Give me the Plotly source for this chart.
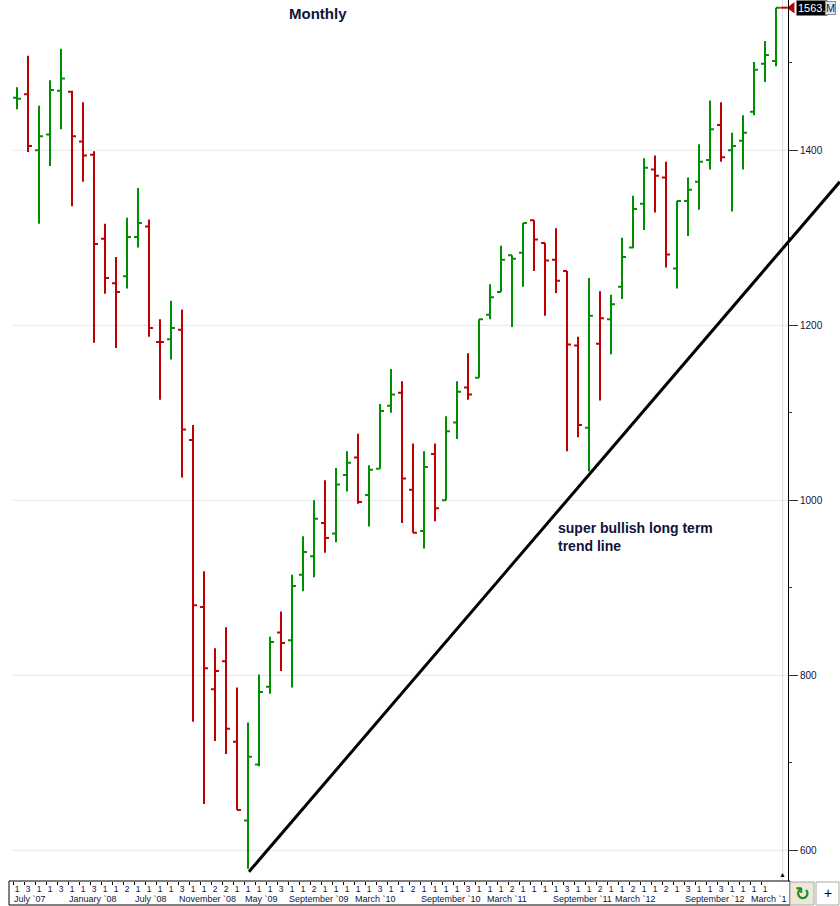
import plotly.graph_objects as go

# monthly bars, July 2007 .. April 2013
opens = [1460, 1464, 1400, 1418, 1468, 1467, 1410, 1395, 1299, 1248,
         1256, 1301, 1313, 1181, 1184, 1195, 1069, 878, 784, 816,
         724, 634, 698, 787, 849, 840, 915, 936, 974, 962,
         1029, 1049, 1006, 1036, 1108, 1123, 1012, 965, 1053, 1000,
         1089, 1129, 1140, 1212, 1238, 1280, 1283, 1320, 1294, 1275,
         1262, 1177, 1083, 1179, 1207, 1244, 1289, 1339, 1378, 1369,
         1265, 1342, 1364, 1389, 1429, 1400, 1411, 1444, 1499, 1502]
highs = [1472, 1508, 1451, 1480, 1516, 1468, 1455, 1399, 1316, 1278,
         1323, 1357, 1321, 1207, 1228, 1218, 1086, 919, 831, 855,
         786, 746, 801, 844, 873, 915, 959, 1000, 1023, 1037,
         1056, 1076, 1040, 1110, 1150, 1136, 1065, 1056, 1065, 1096,
         1136, 1168, 1207, 1247, 1291, 1280, 1317, 1320, 1294, 1311,
         1262, 1187, 1254, 1239, 1235, 1300, 1348, 1391, 1394, 1387,
         1342, 1369, 1407, 1457, 1455, 1420, 1440, 1501, 1525, 1563]
lows = [1447, 1398, 1316, 1382, 1424, 1336, 1364, 1180, 1236, 1174,
        1242, 1289, 1187, 1115, 1161, 1026, 747, 653, 725, 710,
        646, 579, 696, 779, 805, 786, 896, 912, 940, 952,
        1010, 996, 970, 1036, 1100, 974, 963, 945, 976, 1000,
        1070, 1115, 1140, 1207, 1238, 1198, 1244, 1262, 1211, 1237,
        1056, 1072, 1033, 1114, 1167, 1230, 1288, 1309, 1329, 1266,
        1242, 1302, 1332, 1378, 1387, 1330, 1378, 1440, 1478, 1496]
closes = [1459, 1405, 1416, 1469, 1482, 1416, 1394, 1293, 1254, 1238,
          1301, 1317, 1197, 1181, 1197, 1081, 880, 808, 805, 739,
          646, 707, 781, 838, 837, 902, 941, 979, 957, 1018,
          1043, 998, 1035, 1102, 1121, 1025, 963, 1038, 991, 1079,
          1124, 1121, 1207, 1232, 1275, 1276, 1317, 1298, 1274, 1251,
          1178, 1086, 1211, 1208, 1224, 1278, 1333, 1380, 1371, 1281,
          1342, 1355, 1387, 1424, 1392, 1405, 1420, 1492, 1509, 1563]

# day numbers printed under each bar (last bar has none)
day_labels = ["1", "3", "1", "1", "3", "1", "1", "3", "1", "1", "2", "1",
              "1", "1", "1", "3", "1", "1", "2", "2", "1", "1", "1", "1",
              "3", "1", "1", "2", "1", "1", "1", "1", "1", "3", "1", "1",
              "2", "1", "1", "1", "1", "3", "1", "1", "1", "2", "1", "1",
              "1", "1",
              "3", "1", "1", "2", "1", "1", "2", "1", "1", "2", "1", "3",
              "1", "1", "3", "1", "1", "1", "1"]

month_labels = ["July `07", "January `08", "July `08", "November `08", "May `09",
                "September `09", "March `10", "September `10", "March `11",
                "September `11", "March `12", "September `12", "March `1"]
month_bar = [0, 5, 11, 15, 21, 25, 31, 37, 43, 49, 54.6, 61, 67]

grid_levels = [600, 800, 1000, 1200, 1400]

# hand-drawn trend line (bar index, price)
trend_x = [21.09, 74.8]
trend_y = [575.5, 1364]

GREEN = "#008f00"
RED = "#c00000"
TXT = "#12123a"
FONT = "Liberation Sans, Arial, sans-serif"

W, H = 840, 906
ML, MR, MT, MB = 9, 0, 0, 25
PW, PH = W - ML - MR, H - MT - MB


def px_x(p):
    return (p - ML) / PW


def px_y(p):
    return 1 - (p - MT) / PH


n = len(closes)
bars = list(range(n))
up = [i for i in bars if i == 0 or closes[i] >= closes[i - 1]]
down = [i for i in bars if i not in up]

fig = go.Figure()
for idx, col in ((up, GREEN), (down, RED)):
    fig.add_trace(go.Ohlc(
        x=idx,
        open=[opens[i] for i in idx],
        high=[highs[i] for i in idx],
        low=[lows[i] for i in idx],
        close=[closes[i] for i in idx],
        increasing=dict(line=dict(color=col, width=2)),
        decreasing=dict(line=dict(color=col, width=2)),
        tickwidth=0.36, showlegend=False, hoverinfo="skip"))

fig.add_trace(go.Scatter(x=trend_x, y=trend_y, mode="lines",
                         line=dict(color="black", width=3),
                         showlegend=False, hoverinfo="skip"))

# last price pointer
last = closes[-1]
fig.add_trace(go.Scatter(x=[n - 1 + 0.4, n - 1 + 1.05], y=[last, last], mode="lines",
                         line=dict(color=RED, width=2), showlegend=False, hoverinfo="skip"))
fig.add_trace(go.Scatter(x=[n - 1 + 1.45], y=[last], mode="markers",
                         marker=dict(symbol="triangle-left", size=10, color=RED),
                         showlegend=False, hoverinfo="skip"))

axis_pos = px_x(788)

shapes = []
for v in grid_levels:
    shapes.append(dict(type="line", xref="paper", yref="y", x0=px_x(13), x1=axis_pos,
                       y0=v, y1=v, line=dict(color="#e6e6e6", width=1), layer="below"))
shapes.append(dict(type="line", xref="x", yref="paper", x0=69.6, x1=69.6, y0=0, y1=1,
                   line=dict(color="#dadada", width=1), layer="below"))
# bottom strip and buttons
shapes.append(dict(type="rect", xref="paper", yref="paper", x0=0, x1=px_x(790),
                   y0=px_y(905), y1=px_y(881), line=dict(color="black", width=1)))
shapes.append(dict(type="rect", xref="paper", yref="paper", x0=px_x(790), x1=px_x(814),
                   y0=px_y(905), y1=px_y(882), fillcolor="#ece9d8",
                   line=dict(color="#a8a8a0", width=1)))
shapes.append(dict(type="rect", xref="paper", yref="paper", x0=px_x(816), x1=px_x(839),
                   y0=px_y(905), y1=px_y(882), fillcolor="white",
                   line=dict(color="#a8a8a0", width=1)))

ann = []
ann.append(dict(text="<b>Monthly</b>", xref="paper", yref="paper", x=px_x(318), y=px_y(14),
                yanchor="middle", showarrow=False,
                font=dict(family=FONT, size=15, color=TXT)))
ann.append(dict(text="<b>super bullish long term<br>trend line</b>", xref="paper", yref="paper",
                x=px_x(556), y=px_y(518), xanchor="left", yanchor="top", align="left",
                showarrow=False, font=dict(family=FONT, size=14, color=TXT)))
for lab, b in zip(month_labels, month_bar):
    ann.append(dict(text=lab, xref="x", yref="paper", x=b - 0.45, y=px_y(898.5),
                    xanchor="left", yanchor="middle", showarrow=False,
                    font=dict(family=FONT, size=9, color=TXT)))
ann.append(dict(text=str(last) + ".", xref="paper", yref="y", x=px_x(796), y=last,
                xanchor="left", yanchor="middle", showarrow=False, bgcolor="black",
                borderpad=1, font=dict(family=FONT, size=11, color="white")))
ann.append(dict(text="M", xref="paper", yref="y", x=px_x(825), y=last,
                xanchor="left", yanchor="middle", showarrow=False, bgcolor="#dfe6ee",
                bordercolor="#8090a8", borderwidth=1, borderpad=0,
                font=dict(family=FONT, size=11, color="#202040")))
ann.append(dict(text="▲", xref="x", yref="paper", x=69.6, y=0, xanchor="center",
                yanchor="bottom", showarrow=False, font=dict(size=7, color="black")))
ann.append(dict(text="<b>↻</b>", xref="paper", yref="paper", x=px_x(802), y=px_y(893.5),
                xanchor="center", yanchor="middle", showarrow=False,
                font=dict(family="DejaVu Sans", size=18, color="#1f8a1f")))
ann.append(dict(text="+", xref="paper", yref="paper", x=px_x(827.5), y=px_y(893),
                xanchor="center", yanchor="middle", showarrow=False,
                font=dict(family=FONT, size=14, color="black")))

fig.update_layout(
    width=W, height=H,
    margin=dict(l=ML, r=MR, t=MT, b=MB),
    paper_bgcolor="white", plot_bgcolor="white",
    shapes=shapes, annotations=ann, showlegend=False,
    xaxis=dict(range=[(ML - 17) / 11, (ML - 17) / 11 + PW / 11],
               rangeslider=dict(visible=False),
               tickmode="array",
               tickvals=[i - 0.35 for i in range(len(day_labels))],
               ticktext=day_labels, ticklabelshift=4, ticklabelstandoff=-3,
               ticks="outside", ticklen=3, tickcolor="black",
               tickfont=dict(family=FONT, size=8.5, color=TXT),
               showgrid=False, zeroline=False, showline=False,
               automargin=False, fixedrange=True),
    yaxis=dict(range=[564.9, 1571.8], anchor="free", position=axis_pos, side="right",
               tick0=0, dtick=200, ticks="outside", ticklen=9, tickcolor="#333333",
               minor=dict(dtick=100, ticks="outside", ticklen=3, tickcolor="#333333",
                          showgrid=False),
               tickfont=dict(family=FONT, size=10, color=TXT),
               showgrid=False, zeroline=False, showline=True, linecolor="black",
               linewidth=1, automargin=False, fixedrange=True),
)

fig.write_html("out.html", config={"displayModeBar": False},
               post_script="document.body.style.margin='0';")
